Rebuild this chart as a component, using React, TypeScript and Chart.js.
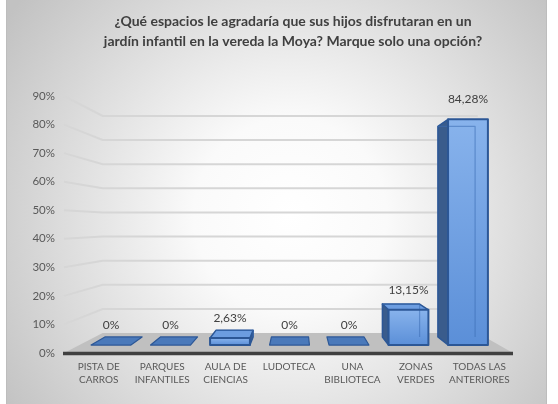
import React, { useEffect, useRef } from 'react';
import { Chart, registerables } from 'chart.js';

Chart.register(...registerables);

const titleLines: string[] = [
  '¿Qué espacios le agradaría que sus hijos disfrutaran en un',
  'jardín infantil en la vereda la Moya? Marque solo una opción?',
];
const categories: string[][] = [
  ['PISTA DE', 'CARROS'],
  ['PARQUES', 'INFANTILES'],
  ['AULA DE', 'CIENCIAS'],
  ['LUDOTECA'],
  ['UNA', 'BIBLIOTECA'],
  ['ZONAS', 'VERDES'],
  ['TODAS LAS', 'ANTERIORES'],
];
const values: number[] = [0, 0, 2.63, 0, 0, 13.15, 84.28];
const yMin = 0;
const yMax = 90;
const yStep = 10;

const W = 558;
const H = 404;
const FONT = 'Lato, "Open Sans", sans-serif';

const S_WALL = 0.845;
const S_FRONT = 0.938;
const S_BACK = 0.875;

const fmt = (v: number) => (v === 0 ? '0%' : v.toFixed(2).replace('.', ',') + '%');

const excel3d = {
  id: 'excel3d',
  beforeDraw(chart: any) {
    const { ctx } = chart;
    ctx.save();
    ctx.fillStyle = '#ffffff';
    ctx.fillRect(0, 0, W, H);
    const g = ctx.createRadialGradient(290, 215, 0, 290, 215, 345);
    g.addColorStop(0, '#ffffff');
    g.addColorStop(0.28, '#fafafa');
    g.addColorStop(1, '#c2c2c2');
    ctx.fillStyle = g;
    ctx.fillRect(6, -2, 541, H + 4);
    ctx.strokeStyle = '#bdbdbd';
    ctx.lineWidth = 1;
    ctx.strokeRect(6.5, -2, 540, H + 4);
    ctx.fillStyle = '#404040';
    ctx.font = `bold 14px ${FONT}`;
    ctx.textAlign = 'center';
    ctx.textBaseline = 'middle';
    titleLines.forEach((t, i) => ctx.fillText(t, 293, 21 + i * 20));
    ctx.restore();
  },
  beforeDatasetsDraw(chart: any) {
    const { ctx, chartArea: a, scales } = chart;
    const y = scales.y;
    const Vx = (a.left + a.right) / 2 + 8;
    const Vy = (a.top + a.bottom) / 2;
    const P = (px: number, py: number, s: number) => [Vx + (px - Vx) * s, Vy + (py - Vy) * s];
    const poly = (pts: number[][], fill: any, stroke?: string, lw = 1) => {
      ctx.beginPath();
      ctx.moveTo(pts[0][0], pts[0][1]);
      for (let i = 1; i < pts.length; i++) ctx.lineTo(pts[i][0], pts[i][1]);
      ctx.closePath();
      if (fill) {
        ctx.fillStyle = fill;
        ctx.fill();
      }
      if (stroke) {
        ctx.strokeStyle = stroke;
        ctx.lineWidth = lw;
        ctx.lineJoin = 'round';
        ctx.stroke();
      }
    };
    ctx.save();
    // gridlines on side + back wall
    ctx.strokeStyle = '#d6d6d6';
    ctx.lineWidth = 2;
    for (let v = yMin + yStep; v <= yMax + 0.001; v += yStep) {
      const py = y.getPixelForValue(v);
      const b1 = P(a.left, py, S_WALL);
      const b2 = P(a.right, py, S_WALL);
      ctx.beginPath();
      ctx.moveTo(a.left - 3, py);
      ctx.lineTo(b1[0], b1[1]);
      ctx.lineTo(b2[0], b2[1]);
      ctx.stroke();
    }
    // floor
    const by = y.getPixelForValue(0);
    poly([[a.left - 3, by], P(a.left, by, S_WALL), P(a.right, by, S_WALL), [a.right + 2, by]], '#c0c0c0');
    ctx.strokeStyle = '#404040';
    ctx.lineWidth = 3.5;
    ctx.beginPath();
    ctx.moveTo(a.left - 4, by + 0.5);
    ctx.lineTo(a.right + 2, by + 0.5);
    ctx.stroke();

    // bars
    const meta = chart.getDatasetMeta(0);
    const edge = '#2c5796';
    meta.data.forEach((el: any, i: number) => {
      const x0 = el.x - el.width / 2;
      const x1 = el.x + el.width / 2;
      const yT = el.y;
      const yB = el.base;
      const ftl = P(x0, yT, S_FRONT), ftr = P(x1, yT, S_FRONT), fbl = P(x0, yB, S_FRONT), fbr = P(x1, yB, S_FRONT);
      const btl = P(x0, yT, S_BACK), btr = P(x1, yT, S_BACK), bbl = P(x0, yB, S_BACK), bbr = P(x1, yB, S_BACK);
      if (Math.abs(yB - yT) < 0.5) {
        poly([ftl, ftr, btr, btl], '#4a79ba', edge, 1.2);
      } else {
        if (el.x > Vx) poly([ftl, btl, bbl, fbl], '#3a5c8c', edge, 1.5);
        else poly([ftr, btr, bbr, fbr], '#3a5c8c', edge, 1.5);
        if (yT > Vy) poly([ftl, ftr, btr, btl], '#6c9de0', edge, 1.5);
        const g = ctx.createLinearGradient(0, ftl[1], 0, fbl[1]);
        g.addColorStop(0, '#88b3ec');
        g.addColorStop(1, '#5b8fd8');
        poly([ftl, ftr, fbr, fbl], g);
        ctx.strokeStyle = 'rgba(60,110,180,0.55)';
        ctx.lineWidth = 1.2;
        ctx.beginPath();
        ctx.moveTo(btl[0], btl[1]);
        ctx.lineTo(btr[0], btr[1]);
        ctx.lineTo(bbr[0], bbr[1]);
        ctx.stroke();
        poly([ftl, ftr, fbr, fbl], null, edge, 2);
      }
      const lx = P(el.x, yT, S_FRONT);
      ctx.fillStyle = '#404040';
      ctx.font = `12px ${FONT}`;
      ctx.textAlign = 'center';
      ctx.textBaseline = 'middle';
      ctx.fillText(fmt(values[i]), lx[0], lx[1] - 20);
    });
    ctx.restore();
  },
};

export default function App() {
  const ref = useRef<HTMLCanvasElement | null>(null);
  useEffect(() => {
    if (!ref.current) return;
    const chart = new Chart(ref.current, {
      type: 'bar',
      data: {
        labels: categories as any,
        datasets: [
          {
            data: values,
            backgroundColor: 'rgba(0,0,0,0)',
            borderWidth: 0,
            barPercentage: 0.67,
            categoryPercentage: 1,
          },
        ],
      },
      options: {
        responsive: false,
        animation: false,
        layout: { padding: { left: 0, right: 47, top: 96, bottom: 0 } },
        plugins: {
          legend: { display: false },
          tooltip: { enabled: false },
          title: { display: false },
        },
        scales: {
          x: {
            grid: { display: false, drawTicks: false },
            border: { display: false },
            ticks: {
              color: '#595959',
              font: { family: FONT, size: 10, lineHeight: 1.3 },
              padding: 7,
              maxRotation: 0,
              autoSkip: false,
            },
            afterFit(s: any) {
              s.height = 51;
            },
          },
          y: {
            min: yMin,
            max: yMax,
            grid: { display: false, drawTicks: false },
            border: { display: false },
            ticks: {
              stepSize: yStep,
              color: '#595959',
              font: { family: FONT, size: 11.5 },
              padding: 12,
              callback: (v: any) => v + '%',
            },
            afterFit(s: any) {
              s.width = 67;
            },
          },
        },
      },
      plugins: [excel3d],
    });
    return () => chart.destroy();
  }, []);
  return (
    <div style={{ position: 'fixed', left: 0, top: 0, width: W, height: H }}>
      <canvas ref={ref} width={W} height={H} style={{ display: 'block' }} />
    </div>
  );
}
